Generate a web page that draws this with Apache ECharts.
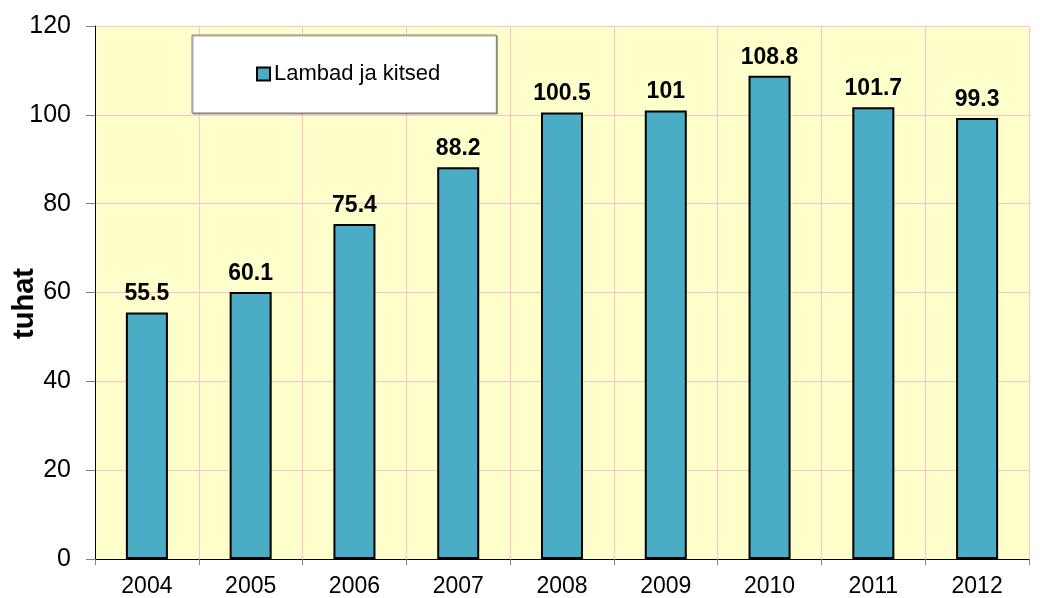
<!DOCTYPE html>
<html>
<head>
<meta charset="utf-8">
<script src="https://cdn.jsdelivr.net/npm/echarts@6/dist/echarts.min.js"></script>
<style>
  html, body { margin: 0; padding: 0; background: #ffffff; }
  #chart { width: 1040px; height: 598px; }
</style>
</head>
<body>
<div id="chart"></div>
<script>
// Lambad ja kitsed (tuhat), aastad 2004–2012
const years = ['2004', '2005', '2006', '2007', '2008', '2009', '2010', '2011', '2012'];
const values = [55.5, 60.1, 75.4, 88.2, 100.5, 101, 108.8, 101.7, 99.3];
const seriesName = 'Lambad ja kitsed';
const yTitle = 'tuhat';

const font = '"Liberation Sans", Arial, sans-serif';
const chart = echarts.init(document.getElementById('chart'), null, { renderer: 'canvas' });

chart.setOption({
  animation: false,
  backgroundColor: '#ffffff',
  grid: {
    left: 95, right: 11, top: 26, bottom: 39,
    show: true, backgroundColor: '#FFFFCC', borderWidth: 0
  },
  legend: {
    left: 192, top: 35,
    padding: [28, 56, 28, 64],
    backgroundColor: '#ffffff',
    borderColor: '#808080',
    borderWidth: 1,
    shadowColor: 'rgba(0,0,0,0.35)',
    shadowOffsetX: 1, shadowOffsetY: 1, shadowBlur: 0,
    itemWidth: 13, itemHeight: 13, itemGap: 4,
    icon: 'rect',
    textStyle: { fontFamily: font, fontSize: 22, color: '#000', padding: [0, 0, 0, -1] },
    data: [seriesName]
  },
  xAxis: {
    type: 'category',
    data: years,
    boundaryGap: true,
    axisLine: { lineStyle: { color: '#000', width: 1 } },
    axisTick: { show: true, length: 6, lineStyle: { color: '#808080' } },
    axisLabel: { fontFamily: font, fontSize: 23, color: '#000', margin: 16 },
    splitLine: { show: true, lineStyle: { color: '#FFC0CB', width: 1 } }
  },
  yAxis: {
    type: 'value',
    min: 0, max: 120, interval: 20,
    name: yTitle,
    nameLocation: 'middle',
    nameGap: 56,
    nameMoveOverlap: false,
    // extra padding on the text's far end lowers the rotated title a little
    nameTextStyle: { fontFamily: font, fontSize: 29, fontWeight: 'bold', color: '#000', padding: [0, 22, 0, 0] },
    axisLine: { show: true, lineStyle: { color: '#000', width: 1 } },
    axisTick: { show: true, length: 9, lineStyle: { color: '#808080' } },
    axisLabel: { fontFamily: font, fontSize: 25, color: '#000', margin: 24 },
    splitLine: { show: true, lineStyle: { color: '#FFC0CB', width: 1 } }
  },
  series: [{
    name: seriesName,
    type: 'bar',
    data: values,
    barWidth: '40.5%',
    itemStyle: { color: '#4BACC6', borderColor: '#000', borderWidth: 2 },
    label: {
      show: true,
      position: 'top',
      distance: 7,
      fontFamily: font,
      fontSize: 23,
      fontWeight: 'bold',
      color: '#000'
    }
  }]
});
</script>
</body>
</html>
